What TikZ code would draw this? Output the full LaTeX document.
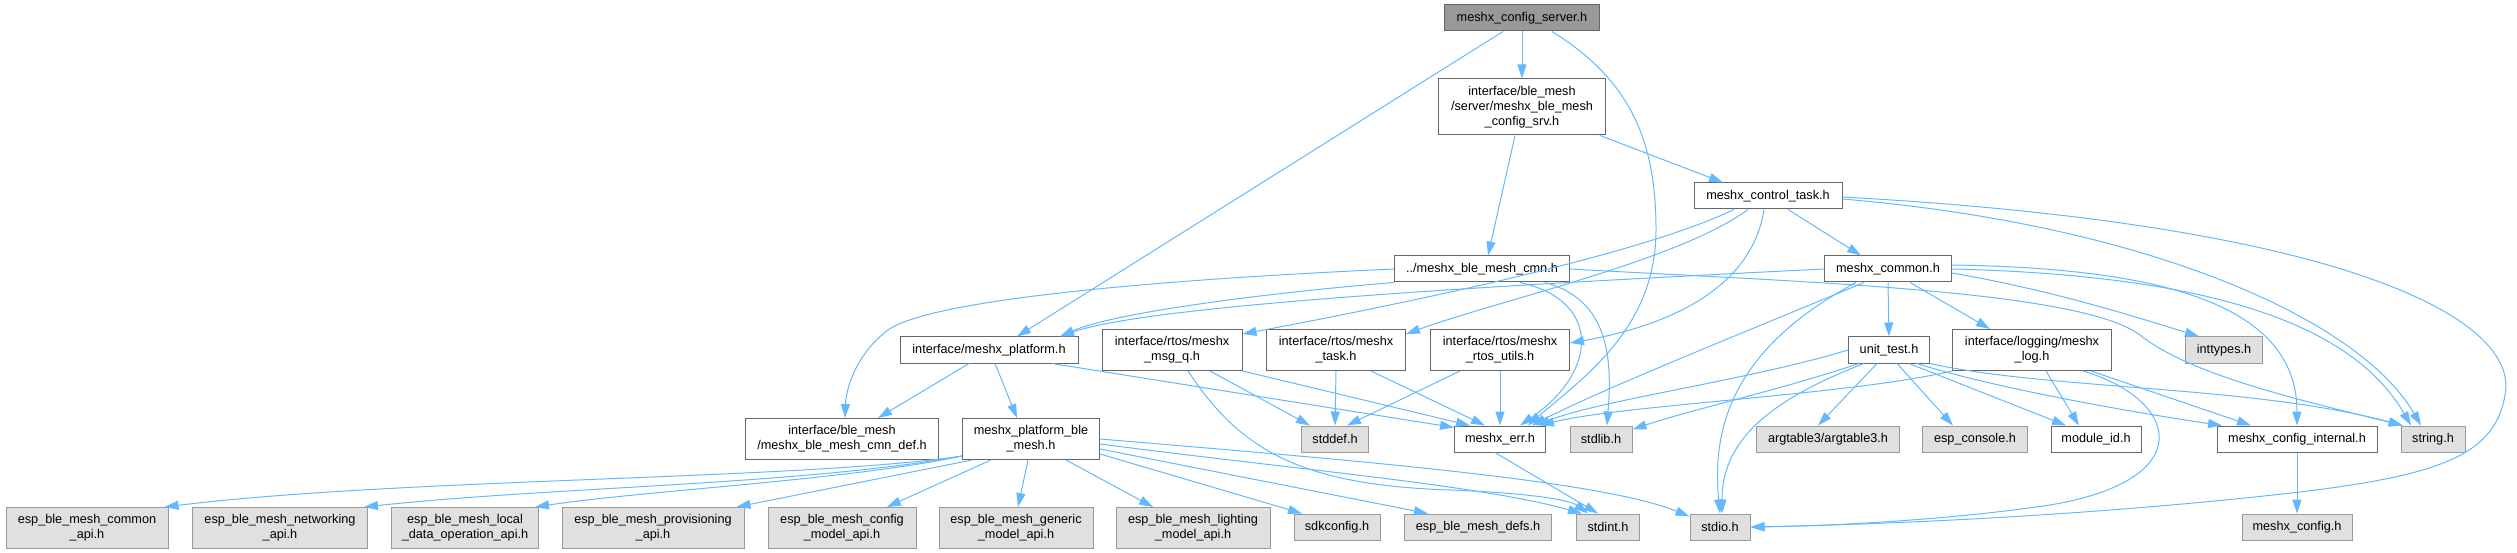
\documentclass[tikz,border=0pt]{standalone}
\usepackage{fontspec}
\setmainfont{Liberation Sans}
\usetikzlibrary{arrows.meta}
\definecolor{edgeblue}{HTML}{63B8FF}
\definecolor{boxline}{HTML}{666666}
\definecolor{sysline}{HTML}{999999}
\definecolor{sysfill}{HTML}{E0E0E0}
\begin{document}
\begin{tikzpicture}[x=1pt,y=-1pt,
  hdr/.style={draw=boxline,fill=white,line width=1pt,inner sep=0pt,align=center,
    minimum height=26pt,font=\fontsize{12.7}{15}\selectfont},
  hdrtwo/.style={hdr,minimum height=41pt},
  sys/.style={hdr,draw=sysline,fill=sysfill},
  systwo/.style={sys,minimum height=41pt},
  top/.style={hdr,fill=sysline},
  dep/.style={draw=edgeblue,line width=1pt,-{Triangle[length=14pt,width=9pt]}}]
\useasboundingbox (0,0) rectangle (2517,553);

\node[top,minimum width=155pt] (srv) at (1522,18) {meshx\_config\_server.h};
\node[hdr,minimum width=167pt,minimum height=56pt] (cfgsrv) at (1522,107) {interface/ble\_mesh\\/server/meshx\_ble\_mesh\\\_config\_srv.h};
\node[hdr,minimum width=148pt] (task) at (1768,196) {meshx\_control\_task.h};
\node[hdr,minimum width=175pt] (bcmn) at (1482,269) {../meshx\_ble\_mesh\_cmn.h};
\node[hdr,minimum width=127pt] (common) at (1888,269) {meshx\_common.h};
\node[hdr,minimum width=178pt] (plat) at (989,350) {interface/meshx\_platform.h};
\node[hdrtwo,minimum width=140pt] (msgq) at (1172,350) {interface/rtos/meshx\\\_msg\_q.h};
\node[hdrtwo,minimum width=139pt] (rtask) at (1336,350) {interface/rtos/meshx\\\_task.h};
\node[hdrtwo,minimum width=139pt] (rutils) at (1500,350) {interface/rtos/meshx\\\_rtos\_utils.h};
\node[hdr,minimum width=81pt] (unittest) at (1889,350) {unit\_test.h};
\node[hdrtwo,minimum width=159pt] (logh) at (2032,350) {interface/logging/meshx\\\_log.h};
\node[sys,minimum width=77pt] (inttypes) at (2224,350) {inttypes.h};
\node[hdrtwo,minimum width=193pt] (cmndef) at (842,439) {interface/ble\_mesh\\/meshx\_ble\_mesh\_cmn\_def.h};
\node[hdrtwo,minimum width=137pt] (platble) at (1031,439) {meshx\_platform\_ble\\\_mesh.h};
\node[sys,minimum width=67pt] (stddef) at (1335,439) {stddef.h};
\node[hdr,minimum width=91pt] (err) at (1500,439) {meshx\_err.h};
\node[sys,minimum width=62pt] (stdlib) at (1601,439) {stdlib.h};
\node[sys,minimum width=143pt] (argtable) at (1828,439) {argtable3/argtable3.h};
\node[sys,minimum width=105pt] (console) at (1975,439) {esp\_console.h};
\node[hdr,minimum width=90pt] (moduleid) at (2096,439) {module\_id.h};
\node[hdr,minimum width=160pt] (cfgint) at (2297,439) {meshx\_config\_internal.h};
\node[sys,minimum width=64pt] (stringh) at (2433,439) {string.h};
\node[systwo,minimum width=162pt] (apicommon) at (87,528) {esp\_ble\_mesh\_common\\\_api.h};
\node[systwo,minimum width=175pt] (apinet) at (280,528) {esp\_ble\_mesh\_networking\\\_api.h};
\node[systwo,minimum width=147pt] (apilocal) at (465,528) {esp\_ble\_mesh\_local\\\_data\_operation\_api.h};
\node[systwo,minimum width=182pt] (apiprov) at (653,528) {esp\_ble\_mesh\_provisioning\\\_api.h};
\node[systwo,minimum width=148pt] (apicfg) at (842,528) {esp\_ble\_mesh\_config\\\_model\_api.h};
\node[systwo,minimum width=154pt] (apigen) at (1016,528) {esp\_ble\_mesh\_generic\\\_model\_api.h};
\node[systwo,minimum width=154pt] (apilight) at (1193,528) {esp\_ble\_mesh\_lighting\\\_model\_api.h};
\node[sys,minimum width=86pt] (sdkconfig) at (1337,527) {sdkconfig.h};
\node[sys,minimum width=147pt] (defs) at (1478,527) {esp\_ble\_mesh\_defs.h};
\node[sys,minimum width=63pt] (stdint) at (1608,527) {stdint.h};
\node[sys,minimum width=60pt] (stdio) at (1720,527) {stdio.h};
\node[sys,minimum width=110pt] (meshxcfg) at (2297,527) {meshx\_config.h};

\draw[dep] (srv) -- (cfgsrv);
\draw[dep] ([xshift=-19pt]srv.south) -- ([xshift=28pt]plat.north);
\draw[dep] ([xshift=30pt]srv.south) .. controls (1630,80) and (1656,140) .. (1656,230) .. controls (1656,330) and (1580,380) .. ([xshift=28pt]err.north);
\draw[dep] ([xshift=-7pt]cfgsrv.south) -- ([xshift=6pt]bcmn.north);
\draw[dep] ([xshift=-6pt]cfgsrv.south east) -- ([xshift=-45pt]task.north);
\draw[dep] ([xshift=20pt]task.south) -- ([xshift=-27pt]common.north);
\draw[dep] ([yshift=-3pt]task.east) .. controls (2150,225) and (2360,320) .. ([xshift=-12pt]stringh.north);
\draw[dep] ([yshift=-1pt]task.east) .. controls (2350,225) and (2520,320) .. (2505,395) .. controls (2495,455) and (2440,475) .. (2300,492) .. controls (2100,515) and (1900,524) .. (stdio.east);
\draw[dep] ([xshift=-34pt]task.south) .. controls (1650,250) and (1450,295) .. ([yshift=-5pt]msgq.north east);
\draw[dep] ([xshift=-20pt]task.south) .. controls (1680,260) and (1500,300) .. ([yshift=-5pt]rtask.north east);
\draw[dep] ([xshift=-4pt]task.south) .. controls (1755,270) and (1700,320) .. ([yshift=7pt]rutils.east);
\draw[dep] (bcmn.west) .. controls (1150,280) and (930,300) .. (888,330) .. controls (855,355) and (846,390) .. ([xshift=3pt]cmndef.north);
\draw[dep] (bcmn.south west) .. controls (1300,290) and (1120,310) .. ([xshift=71pt]plat.north);
\draw[dep] ([xshift=38pt]bcmn.south) .. controls (1600,300) and (1600,370) .. ([xshift=20pt]err.north);
\draw[dep] ([xshift=63pt]bcmn.south) .. controls (1610,300) and (1612,360) .. ([xshift=6pt]stdlib.north);
\draw[dep] (bcmn.east) .. controls (1800,282) and (2080,290) .. (2140,335) .. controls (2190,375) and (2300,400) .. ([xshift=2pt]stringh.north west);
\draw[dep] (common.west) .. controls (1500,285) and (1150,305) .. ([xshift=71pt]plat.north);
\draw[dep] ([xshift=-24pt]common.south) .. controls (1750,330) and (1600,390) .. ([xshift=32pt]err.north);
\draw[dep] ([xshift=-32pt]common.south) .. controls (1730,350) and (1712,430) .. (stdio.north);
\draw[dep] (common.south) -- (unittest.north);
\draw[dep] ([xshift=22pt]common.south) -- ([xshift=-42pt]logh.north);
\draw[dep] ([yshift=-4pt]common.east) .. controls (2050,290) and (2130,315) .. ([xshift=-25pt]inttypes.north);
\draw[dep] ([yshift=4pt]common.east) .. controls (2150,268) and (2297,300) .. (cfgint.north);
\draw[dep] (common.east) .. controls (2200,275) and (2350,320) .. ([xshift=-22pt]stringh.north);
\draw[dep] (unittest.west) .. controls (1750,380) and (1600,400) .. ([xshift=36pt]err.north);
\draw[dep] ([xshift=-30pt]unittest.south) .. controls (1780,390) and (1690,410) .. ([yshift=-4pt]stdlib.north east);
\draw[dep] ([xshift=-25pt]unittest.south) .. controls (1770,400) and (1722,440) .. ([xshift=2pt]stdio.north);
\draw[dep] ([xshift=-12pt]unittest.south) -- ([xshift=-10pt]argtable.north);
\draw[dep] ([xshift=8pt]unittest.south) -- ([xshift=-22pt]console.north);
\draw[dep] ([xshift=20pt]unittest.south) -- ([xshift=-30pt]moduleid.north);
\draw[dep] ([xshift=28pt]unittest.south) .. controls (2000,390) and (2150,415) .. ([xshift=-75pt]cfgint.north);
\draw[dep] (unittest.south east) .. controls (2050,390) and (2250,385) .. ([xshift=-30pt]stringh.north);
\draw[dep] (logh.south west) .. controls (1850,395) and (1620,405) .. ([xshift=40pt]err.north);
\draw[dep] ([xshift=14pt]logh.south) -- ([xshift=-17pt]moduleid.north);
\draw[dep] ([xshift=59pt]logh.south) -- ([xshift=-46pt]cfgint.north);
\draw[dep] ([xshift=51pt]logh.south) .. controls (2180,400) and (2200,480) .. (2050,505) .. controls (1950,520) and (1830,526) .. (stdio.east);
\draw[dep] (cfgint) -- (meshxcfg);
\draw[dep] ([xshift=-5pt]err.south) -- ([xshift=-10pt]stdint.north);
\draw[dep] ([xshift=-20pt]plat.south) -- ([xshift=36pt]cmndef.north);
\draw[dep] ([xshift=6pt]plat.south) -- ([xshift=-14pt]platble.north);
\draw[dep] ([xshift=63pt]plat.south) -- ([yshift=-2pt]err.north west);
\draw[dep] ([xshift=38pt]msgq.south) -- ([xshift=-25pt]stddef.north);
\draw[dep] (msgq.south east) -- ([xshift=-30pt]err.north);
\draw[dep] ([xshift=16pt]msgq.south) .. controls (1240,450) and (1300,485) .. (1450,490) .. controls (1530,493) and (1570,500) .. ([xshift=-20pt]stdint.north);
\draw[dep] (rtask.south) -- (stddef.north);
\draw[dep] ([xshift=35pt]rtask.south) -- ([xshift=-15pt]err.north);
\draw[dep] ([xshift=-40pt]rutils.south) -- ([xshift=12pt]stddef.north);
\draw[dep] (rutils) -- (err);
\draw[dep] ([yshift=4pt]platble.south west) .. controls (800,480) and (400,478) .. ([xshift=-4pt]apicommon.north east);
\draw[dep] ([yshift=4pt]platble.south west) .. controls (800,485) and (550,487) .. ([xshift=-4pt]apinet.north east);
\draw[dep] ([yshift=4pt]platble.south west) .. controls (850,480) and (650,490) .. ([xshift=-4pt]apilocal.north east);
\draw[dep] ([xshift=10pt]platble.south west) -- ([xshift=-8pt]apiprov.north east);
\draw[dep] ([xshift=-40pt]platble.south) -- ([xshift=45pt]apicfg.north);
\draw[dep] ([xshift=-3pt]platble.south) -- ([xshift=2pt]apigen.north);
\draw[dep] ([xshift=35pt]platble.south) -- ([xshift=-40pt]apilight.north);
\draw[dep] ([yshift=-15pt]platble.east) -- ([xshift=-35pt]sdkconfig.north);
\draw[dep] ([yshift=-10pt]platble.east) -- ([xshift=-50pt]defs.north);
\draw[dep] ([yshift=-5pt]platble.east) .. controls (1300,470) and (1480,485) .. ([xshift=-26pt]stdint.north);
\draw[dep] (platble.east) .. controls (1350,460) and (1600,480) .. ([yshift=-3pt]stdio.north west);
\end{tikzpicture}
\end{document}
